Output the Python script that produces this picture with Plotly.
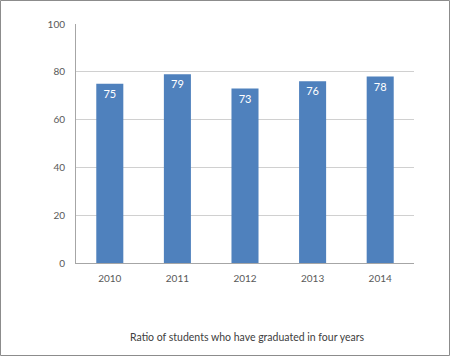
import plotly.graph_objects as go

years = ["2010", "2011", "2012", "2013", "2014"]
ratios = [75, 79, 73, 76, 78]
title_text = "Ratio of students who have graduated in four years"

W, H = 450, 356
L, R, T, B = 76, 36, 24, 93
pw, ph = W - L - R, H - T - B

fig = go.Figure(go.Bar(
    x=years, y=ratios,
    marker=dict(color="#4F81BD", line=dict(width=0)),
    text=[str(v) for v in ratios],
    textposition="inside", insidetextanchor="end",
    textfont=dict(color="white", size=11, family="Lato"),
    cliponaxis=False,
))

fig.update_layout(
    width=W, height=H,
    margin=dict(l=L, r=R, t=T, b=B, pad=0),
    paper_bgcolor="white", plot_bgcolor="white",
    bargap=0.6, showlegend=False,
    font=dict(family="Lato", size=10, color="#595959"),
    xaxis=dict(showgrid=False, showline=True, linecolor="#A6A6A6", linewidth=1,
               ticks="", ticklabelstandoff=6, tickfont=dict(size=10, color="#595959")),
    yaxis=dict(range=[0, 100], dtick=20, showgrid=True, gridcolor="#D0D0D0", gridwidth=1,
               showline=True, linecolor="#A6A6A6", linewidth=1, zeroline=False,
               ticks="", ticklabelstandoff=8, tickfont=dict(size=10, color="#595959")),
    annotations=[dict(text=title_text, xref="paper", yref="paper",
                      x=(247 - L) / pw, y=(H - 337 - B) / ph, xanchor="center", yanchor="middle",
                      showarrow=False, font=dict(size=10.5, color="#404040", family="Lato"))],
    shapes=[dict(type="rect", xref="paper", yref="paper",
                 x0=(0.5 - L) / pw, x1=(W - 0.5 - L) / pw,
                 y0=(0.5 - B) / ph, y1=1 + (T - 0.5) / ph,
                 line=dict(color="#8C8C8C", width=1), layer="above")],
)
fig.write_html("out.html", config={"displayModeBar": False},
               post_script="document.body.style.margin='0';document.body.style.overflow='hidden';")
